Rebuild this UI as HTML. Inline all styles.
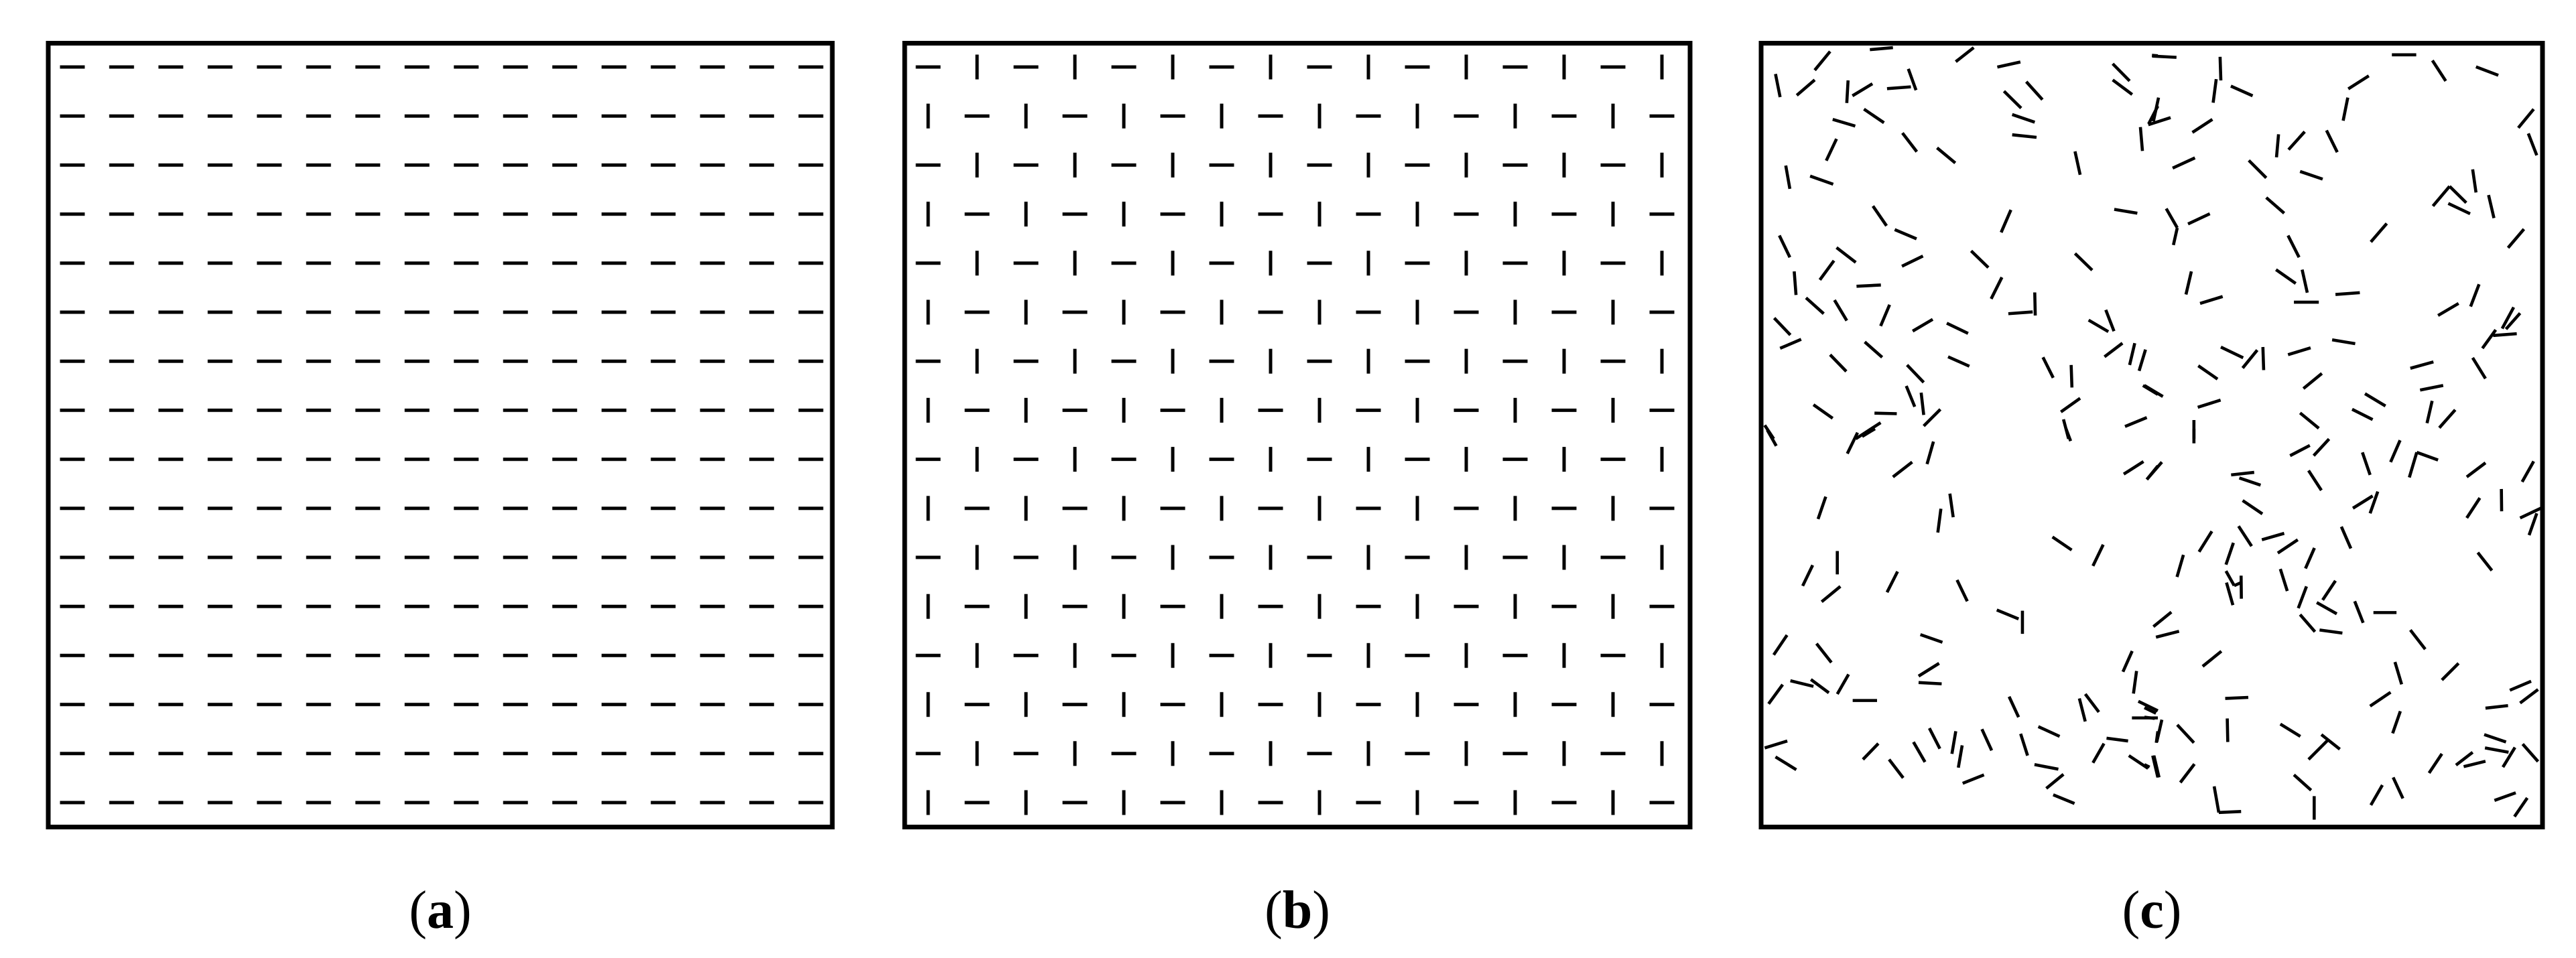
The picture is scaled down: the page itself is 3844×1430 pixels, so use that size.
<!DOCTYPE html>
<html><head><meta charset="utf-8">
<style>
html,body{margin:0;padding:0;background:#fff;}
svg{display:block;}
text{font-family:"Liberation Serif",serif;}
</style></head>
<body>
<svg width="3844" height="1430" viewBox="0 0 3844 1430" xmlns="http://www.w3.org/2000/svg">
<defs>
<pattern id="pa" patternUnits="userSpaceOnUse" x="71.3" y="63.4" width="73.47" height="73.2">
<line x1="18.2" y1="36.6" x2="55.2" y2="36.6" stroke="#000" stroke-width="5"/>
</pattern>
<pattern id="pb" patternUnits="userSpaceOnUse" x="1348.5" y="63.4" width="146" height="146.4">
<line x1="18" y1="36.6" x2="55" y2="36.6" stroke="#000" stroke-width="5"/>
<line x1="109.5" y1="18.1" x2="109.5" y2="55.1" stroke="#000" stroke-width="5"/>
<line x1="36.5" y1="91.3" x2="36.5" y2="128.3" stroke="#000" stroke-width="5"/>
<line x1="91" y1="109.8" x2="128" y2="109.8" stroke="#000" stroke-width="5"/>
</pattern>
<clipPath id="cc"><rect x="2628" y="65" width="1166" height="1170"/></clipPath>
</defs>
<rect width="3844" height="1430" fill="#fff"/>
<rect x="71.3" y="63.4" width="1175.5" height="1171.2" fill="url(#pa)"/>
<rect x="1348.5" y="63.4" width="1168" height="1171.2" fill="url(#pb)"/>

<g clip-path="url(#cc)" fill="none" stroke="#000" stroke-linecap="butt">
<g transform="translate(2620,55) scale(0.38265)" stroke-width="12">
<path d="M77 145L95 235M160 228L230 168M230 130L290 57M445 50L535 42M355 258L360 170M377 230L455 183M512 202L605 195M595 125L625 208M780 97L850 42M942 118L1032 98M300 322L388 348M422 282L500 335M968 212L1035 278M1055 175L1118 245M1000 303L1088 333M1000 382L1095 392M1392 105L1458 172M1392 168L1468 225M1545 72L1568 74M1532 340L1568 270M1500 352L1508 445M275 483L315 398M572 375L628 448M707 433L778 492M117 502L133 593M212 543L302 575M1245 447L1265 538M457 660L510 737M542 752L627 788M957 763L995 675M1398 673L1488 688M92 775L133 860M315 822L390 880M250 948L305 873M570 895L652 855M840 835L907 900M1245 845L1312 910M150 915L157 1007M393 973L488 968M918 1022L960 938M1088 997L1090 1087M985 1080L1080 1073M196 1018L265 1080M307 1027L355 1107M487 1128L522 1045M612 1148L690 1102M745 1117L828 1157M72 1097L135 1163M95 1215L177 1180M1298 1105L1375 1150M1365 1065L1397 1148M425 1190L493 1250M290 1240L353 1305M750 1248L833 1285M1360 1248L1430 1195M1478 1195L1458 1280M1520 1220L1495 1303M1120 1250L1160 1330M1230 1280L1233 1368M590 1280L655 1348M587 1362L620 1443M645 1388L655 1475M225 1435L300 1488M463 1468L550 1470M655 1518L720 1453M1190 1463L1265 1410M1510 1360L1568 1395M1440 1520L1525 1485M1200 1492L1220 1568M35 1515L70 1568M390 1568L487 1505"/>
</g>
<g transform="translate(3200,55) scale(0.38265)" stroke-width="12">
<path d="M30 75L125 80M295 78L298 170M268 257L280 165M337 192L422 230M55 237L35 330M15 343L102 315M187 373L265 322M110 512L197 472M795 203L875 152M775 327L793 237M965 70L1060 70M1123 92L1175 172M1293 117L1380 150M515 470L523 380M562 440L625 370M710 365L752 450M1458 355L1518 282M1497 377L1530 462M407 482L475 550M607 525L695 555M1280 517L1293 607M1125 660L1190 583M1190 583L1255 647M1185 650L1270 690M1342 617L1363 707M475 627L545 688M85 670L128 745M128 745L113 812M170 730L255 690M883 800L945 728M1418 823L1480 750M560 775L603 860M162 1005L183 915M217 1040L305 1013M513 908L590 962M615 908L635 998M583 1035L680 1035M745 1005L840 998M1272 1052L1305 965M1145 1087L1225 1040M1395 1138L1440 1055M1410 1140L1465 1078M1360 1165L1452 1158M1318 1215L1370 1143M732 1182L822 1197M298 1210L385 1252M383 1292L440 1222M462 1210L465 1300M560 1240L648 1213M210 1283L285 1335M0 1360L72 1403M1037 1293L1127 1268M1280 1252L1330 1333M620 1372L692 1313M1075 1378L1165 1360M208 1445L297 1417M860 1392L940 1440M810 1453L890 1493M1102 1507L1122 1420M1150 1525L1212 1455M607 1467L680 1527M193 1495L193 1568"/>
</g>
<g transform="translate(2620,640) scale(0.38265)" stroke-width="12">
<path d="M45 5L80 67M357 97L397 15M415 30L465 0M1210 0L1228 48M535 188L610 130M668 138L693 50M1435 177L1512 128M1525 198L1568 145M243 352L273 265M757 253L770 345M710 405L722 312M1157 422L1232 473M1315 535L1355 452M318 477L318 568M183 613L222 532M257 675L330 615M512 638L553 557M785 590L825 673M940 707L1025 742M1040 710L1040 800M642 803L728 833M70 882L122 805M237 838L295 912M715 915L635 965M635 990L725 995M1468 867L1432 948M1485 945L1473 1033M50 1073L105 998M135 983L225 1005M215 978L285 1030M318 1035L362 958M378 1060L473 1060M988 1045L1025 1125M1285 1035L1338 1105M1262 1052L1285 1142M1492 1063L1568 1100M1467 1128L1568 1128M35 1245L123 1218M77 1280L158 1330M418 1290L478 1228M520 1290L575 1362M615 1222L660 1300M677 1168L718 1248M765 1268L780 1180M790 1322L805 1235M882 1172L920 1255M1033 1190L1060 1275M1102 1162L1185 1200M1087 1310L1180 1328M1133 1403L1200 1348M1160 1428L1243 1462M807 1383L890 1350M1368 1207L1452 1218M1315 1303L1358 1228M1455 1275L1530 1325M1548 1275L1568 1360M1568 1180L1562 1225"/>
</g>
<g transform="translate(3200,640) scale(0.38265)" stroke-width="12">
<path d="M193 0L193 57M10 197L68 130M568 105L645 65M660 105L720 40M338 180L428 170M370 192L453 220M640 163L690 240M850 92L880 180M960 130L997 45M1033 190L1062 92M1062 92L1145 122M1257 188L1330 133M1473 207L1518 127M383 280L460 332M813 310L890 262M880 330L910 245M1257 348L1308 270M1392 235L1393 322M1465 348L1550 308M1500 415L1530 330M213 480L263 400M367 380L418 458M458 433L545 408M520 485L598 433M127 578L152 492M318 530L347 445M628 545L663 465M768 382L805 467M1300 483L1355 553M318 555L350 612M320 600L345 688M377 573L378 663M350 612L377 600M530 547L557 633M600 700L632 615M695 668L745 593M672 678L750 722M820 673L853 757M893 717L983 717M607 725L665 792M683 785L772 797M35 772L105 715M45 813L135 790M1037 785L1095 860M227 927L300 868M977 910L1003 997M1160 980L1225 915M880 1082L960 1028M315 1052L405 1048M1425 1020L1508 985M1465 1070L1535 1017M1330 1090L1418 1080M968 1188L998 1102M0 1088L45 1110M0 1125L40 1130M48 1222L68 1135M128 1155L193 1225M323 1130L325 1222M530 1152L608 1200M640 1290L715 1215M690 1193L762 1250M1325 1193L1410 1222M1328 1245L1420 1262M1398 1320L1445 1243M1215 1312L1280 1262M1245 1318L1330 1297M1475 1230L1535 1298M1110 1343L1160 1268M0 1310L20 1320M37 1275L57 1360M140 1380L195 1308M272 1395L290 1497M290 1497L377 1493M583 1350L650 1410M662 1433L662 1525M883 1468L928 1390M970 1360L1008 1442M1365 1450L1448 1420M1443 1513L1493 1440"/>
</g>
</g>

<g fill="none" stroke="#000" stroke-width="7">
<rect x="72" y="64.5" width="1170" height="1170"/>
<rect x="1350" y="64.5" width="1172" height="1170"/>
<rect x="2628" y="64.5" width="1166" height="1170"/>
</g>

<g font-size="80" text-anchor="middle" fill="#000">
<text x="657" y="1385">(<tspan font-weight="bold">a</tspan>)</text>
<text x="1936" y="1385">(<tspan font-weight="bold">b</tspan>)</text>
<text x="3211" y="1385">(<tspan font-weight="bold">c</tspan>)</text>
</g>
</svg>
</body></html>
